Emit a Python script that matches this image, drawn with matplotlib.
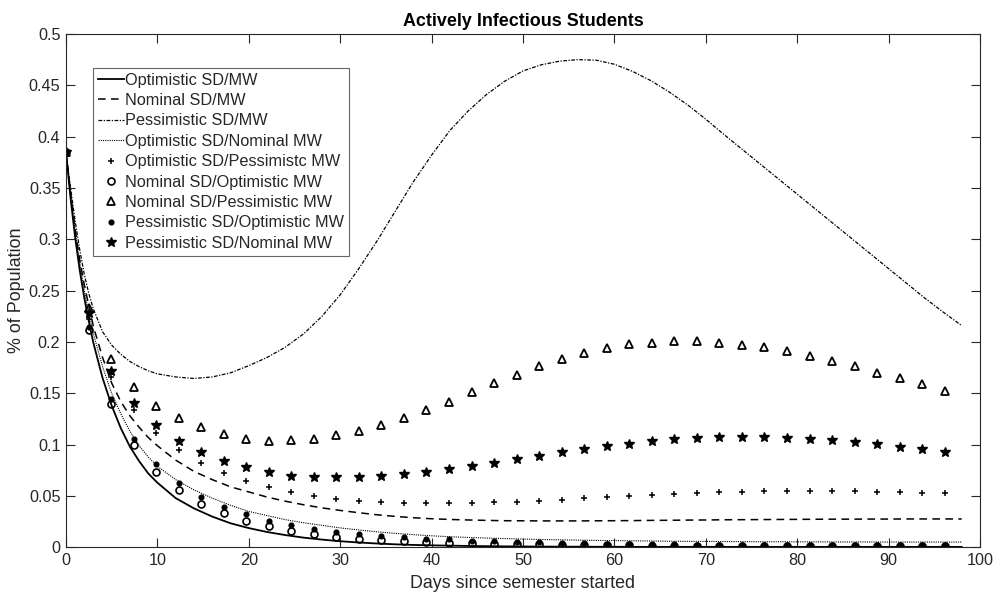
"""
plot.py
-------
Actively infectious students over the semester for the nine
social-distancing (SD) / mask-wearing (MW) scenario combinations.

The four "pure" scenarios are drawn as lines, the mixed ones as markers
sampled every ~2.5 days.
"""

import matplotlib
matplotlib.use("Agg")

import matplotlib.pyplot as plt
from matplotlib.ticker import FormatStrFormatter, MultipleLocator


# ---------------------------------------------------------------------------
# Data (% of population)
# ---------------------------------------------------------------------------

line_days = [
    0, 0.5, 1, 1.5, 2, 2.5, 3, 4, 5, 6, 7, 8, 9,
    10, 12, 14, 16, 18, 20, 22, 24, 26, 28, 30, 32, 34, 36, 38, 40,
    42, 44, 46, 48, 50, 52, 54, 56, 58, 60, 62, 64, 66, 68, 70,
    72, 74, 76, 78, 80, 82, 84, 86, 88, 90, 92, 94, 96, 98,
]

opt_sd_mw = [
    0.385, 0.34, 0.302, 0.27, 0.243, 0.22, 0.199, 0.165, 0.138, 0.116, 0.098, 0.084, 0.072,
    0.063, 0.048, 0.038, 0.030, 0.0235, 0.0188, 0.015, 0.012, 0.0095, 0.0076, 0.006, 0.0048,
    0.0038, 0.003, 0.0024, 0.002, 0.0017, 0.0014, 0.0012, 0.001, 0.0009, 0.0008, 0.0007,
    0.0007, 0.0006, 0.0006, 0.0005, 0.0005, 0.0005, 0.0005, 0.0005, 0.0005, 0.0005, 0.0005,
    0.0005, 0.0005, 0.0005, 0.0005, 0.0005, 0.0005, 0.0005, 0.0005, 0.0005, 0.0005, 0.0005,
]

nom_sd_mw = [
    0.385, 0.345, 0.31, 0.28, 0.256, 0.235, 0.215, 0.185, 0.16, 0.142, 0.128, 0.117, 0.107,
    0.099, 0.085, 0.074, 0.066, 0.059, 0.054, 0.049, 0.045, 0.0415, 0.0385, 0.036, 0.0338,
    0.0318, 0.0302, 0.0289, 0.0279, 0.0272, 0.0267, 0.0263, 0.026, 0.0259, 0.0258, 0.0258,
    0.0258, 0.0259, 0.026, 0.0261, 0.0263, 0.0264, 0.0266, 0.0267, 0.0269, 0.027, 0.0271,
    0.0272, 0.0273, 0.0274, 0.0275, 0.0275, 0.0276, 0.0276, 0.0277, 0.0277, 0.0277, 0.0277,
]

pess_sd_mw = [
    0.385, 0.35, 0.318, 0.29, 0.266, 0.247, 0.232, 0.21, 0.197, 0.188, 0.181, 0.176, 0.172,
    0.169, 0.166, 0.1645, 0.166, 0.170, 0.177, 0.185, 0.195, 0.208, 0.225, 0.246, 0.271,
    0.298, 0.327, 0.356, 0.382, 0.406, 0.425, 0.441, 0.454, 0.464, 0.470, 0.4735,
    0.475, 0.4745, 0.4705, 0.4635, 0.4545, 0.4435, 0.431, 0.417, 0.402, 0.3875, 0.373,
    0.3585, 0.344, 0.3295, 0.315, 0.3005, 0.286, 0.2715, 0.257, 0.2425, 0.229, 0.216,
]

opt_sd_nom_mw = [
    0.385, 0.344, 0.308, 0.278, 0.25, 0.228, 0.208, 0.176, 0.15, 0.13, 0.113, 0.099, 0.088,
    0.079, 0.066, 0.056, 0.048, 0.041, 0.035, 0.031, 0.027, 0.024, 0.0215, 0.019, 0.017,
    0.0152, 0.0137, 0.0124, 0.0113, 0.0104, 0.0097, 0.0091, 0.0086, 0.0081, 0.0077, 0.0074,
    0.0071, 0.0068, 0.0066, 0.0064, 0.0062, 0.006, 0.0059, 0.0058, 0.0057, 0.0056, 0.0055,
    0.0055, 0.0054, 0.0054, 0.0053, 0.0053, 0.0053, 0.0052, 0.0052, 0.0052, 0.0052, 0.0052,
]

marker_days = [
    0, 2.47, 4.93, 7.40, 9.86, 12.33, 14.79, 17.26, 19.72, 22.19,
    24.65, 27.12, 29.58, 32.05, 34.51, 36.98, 39.44, 41.91, 44.37, 46.84,
    49.30, 51.77, 54.23, 56.70, 59.16, 61.63, 64.09, 66.56, 69.02, 71.49,
    73.95, 76.42, 78.88, 81.35, 83.81, 86.28, 88.74, 91.21, 93.67, 96.14,
]

opt_sd_pess_mw = [
    0.385, 0.222, 0.166, 0.134, 0.111, 0.095, 0.082, 0.072, 0.0646, 0.0585,
    0.0536, 0.0503, 0.0474, 0.0454, 0.0439, 0.0435, 0.0429, 0.0429, 0.0429, 0.0439,
    0.0445, 0.0454, 0.0464, 0.0478, 0.049, 0.0503, 0.0513, 0.0522, 0.0532, 0.0539,
    0.0542, 0.0549, 0.0549, 0.0549, 0.0549, 0.0546, 0.0542, 0.0539, 0.0532, 0.0526,
]

nom_sd_opt_mw = [
    0.385, 0.212, 0.140, 0.0996, 0.0737, 0.0555, 0.0425, 0.0332, 0.026, 0.0208,
    0.0162, 0.013, 0.0104, 0.0085, 0.0072, 0.0062, 0.0053, 0.0046, 0.004, 0.0036,
    0.0032, 0.0029, 0.0026, 0.0024, 0.0022, 0.002, 0.0018, 0.0017, 0.0016, 0.0015,
    0.0014, 0.0013, 0.0012, 0.0012, 0.0011, 0.0011, 0.001, 0.001, 0.001, 0.001,
]

nom_sd_pess_mw = [
    0.385, 0.233, 0.183, 0.156, 0.138, 0.126, 0.117, 0.110, 0.106, 0.104,
    0.1045, 0.106, 0.109, 0.1135, 0.119, 0.126, 0.134, 0.142, 0.151, 0.160,
    0.168, 0.1765, 0.183, 0.189, 0.194, 0.1976, 0.1995, 0.2008, 0.2008, 0.1991,
    0.1972, 0.1947, 0.1908, 0.1865, 0.1813, 0.1765, 0.1703, 0.1645, 0.1587, 0.1521,
]

pess_sd_opt_mw = [
    0.385, 0.215, 0.145, 0.106, 0.081, 0.0623, 0.0493, 0.0396, 0.0322, 0.026,
    0.0215, 0.0176, 0.015, 0.013, 0.0111, 0.0098, 0.0085, 0.0079, 0.0065, 0.0059,
    0.0053, 0.0048, 0.0044, 0.004, 0.0037, 0.0034, 0.0032, 0.003, 0.0028, 0.0027,
    0.0026, 0.0025, 0.0024, 0.0023, 0.0023, 0.0022, 0.0022, 0.0021, 0.0021, 0.0021,
]

pess_sd_nom_mw = [
    0.385, 0.228, 0.172, 0.141, 0.119, 0.104, 0.093, 0.0844, 0.078, 0.073,
    0.070, 0.0688, 0.0682, 0.0685, 0.0695, 0.0711, 0.073, 0.076, 0.0792, 0.0826,
    0.086, 0.0892, 0.0925, 0.0957, 0.0986, 0.1009, 0.1032, 0.1052, 0.1064, 0.1071,
    0.1071, 0.1071, 0.1064, 0.1054, 0.1042, 0.1025, 0.1003, 0.098, 0.0957, 0.0928,
]


# ---------------------------------------------------------------------------
# Figure
# ---------------------------------------------------------------------------

AX_COLOR = "#262626"

plt.rcParams["font.family"] = ["Liberation Sans", "DejaVu Sans"]

fig = plt.figure(figsize=(9.94, 5.93), dpi=100)
ax = fig.add_axes([0.0664, 0.0769, 0.9195, 0.8658])

# scenario lines
ax.plot(line_days, opt_sd_mw, color="k", lw=1.3, ls="-", label="Optimistic SD/MW")
ax.plot(line_days, nom_sd_mw, color="k", lw=1.1, ls=(0, (5, 3.5)), label="Nominal SD/MW")
ax.plot(line_days, pess_sd_mw, color="k", lw=0.9, ls=(0, (3, 1.2, 1, 1.2)),
        label="Pessimistic SD/MW")
ax.plot(line_days, opt_sd_nom_mw, color="k", lw=0.8, ls=(0, (1, 1)),
        label="Optimistic SD/Nominal MW")

# mixed scenarios as markers
ax.plot(marker_days, opt_sd_pess_mw, ls="none", marker="+", ms=5, mew=1.1, color="k",
        label="Optimistic SD/Pessimistc MW")
ax.plot(marker_days, nom_sd_opt_mw, ls="none", marker="o", ms=5, mew=1.2, color="k",
        mfc="none", label="Nominal SD/Optimistic MW")
ax.plot(marker_days, nom_sd_pess_mw, ls="none", marker="^", ms=6, mew=1.3, color="k",
        mfc="none", label="Nominal SD/Pessimistic MW")
ax.plot(marker_days, pess_sd_opt_mw, ls="none", marker="o", ms=3.4, color="k",
        label="Pessimistic SD/Optimistic MW")
ax.plot(marker_days, pess_sd_nom_mw, ls="none", marker="*", ms=7.5, color="k",
        label="Pessimistic SD/Nominal MW")

ax.set_xlim(0, 100)
ax.set_ylim(0, 0.5)
ax.xaxis.set_major_locator(MultipleLocator(10))
ax.yaxis.set_major_locator(MultipleLocator(0.05))
ax.yaxis.set_major_formatter(FormatStrFormatter("%g"))

ax.tick_params(direction="in", length=6.5, width=0.8, colors=AX_COLOR,
               labelsize=11.7, top=True, right=True, pad=4)
for spine in ax.spines.values():
    spine.set_color(AX_COLOR)
    spine.set_linewidth(0.8)

ax.set_title("Actively Infectious Students", fontsize=12.9, fontweight="bold",
             color="k", pad=6)
ax.set_xlabel("Days since semester started", fontsize=12.9, color=AX_COLOR, labelpad=5)
ax.set_ylabel("% of Population", fontsize=12.9, color=AX_COLOR, labelpad=3)

leg = ax.legend(loc="upper left", bbox_to_anchor=(0.0295, 0.934), borderaxespad=0,
                fontsize=11.7, frameon=True, fancybox=False, framealpha=1,
                edgecolor="0.4", handlelength=1.6, handletextpad=0.1,
                labelspacing=0.33, borderpad=0.3)
leg.get_frame().set_linewidth(0.8)
for text in leg.get_texts():
    text.set_color(AX_COLOR)

fig.savefig("out.png", dpi=100)
